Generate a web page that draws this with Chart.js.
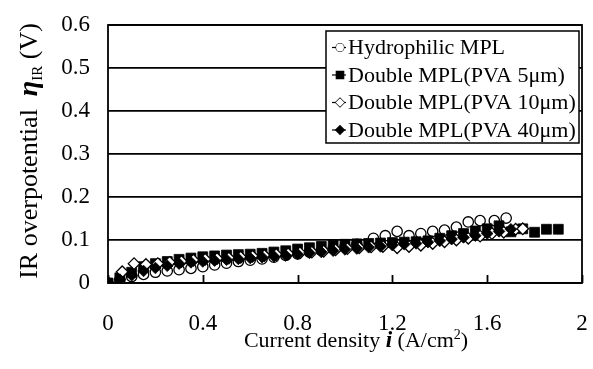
<!DOCTYPE html>
<html>
<head>
<meta charset="utf-8">
<script src="https://cdn.jsdelivr.net/npm/chart.js@4.4.1/dist/chart.umd.min.js"></script>
<style>
    html, body { margin: 0; padding: 0; background: #fff; }
    #wrap { width: 593px; height: 369px; }
</style>
</head>
<body>
<div id="wrap"><canvas id="irChart" width="593" height="369"></canvas></div>
<script>
// Current density i (A/cm2) and IR overpotential (V) for each MPL
const hydroX = [0, 0.05, 0.1, 0.15, 0.2, 0.25, 0.3, 0.35, 0.4, 0.45, 0.5, 0.55, 0.6, 0.65, 0.7, 0.75, 0.8, 0.85,
    0.9, 0.95, 1.0, 1.05, 1.12, 1.17, 1.22, 1.27, 1.32, 1.37, 1.42, 1.47, 1.52, 1.57, 1.63, 1.68];
const hydroY = [0, 0.008, 0.015, 0.02, 0.025, 0.028, 0.031, 0.034, 0.038, 0.042, 0.046, 0.05, 0.053, 0.056, 0.06, 0.064, 0.068, 0.072,
    0.076, 0.08, 0.085, 0.09, 0.104, 0.11, 0.12, 0.11, 0.115, 0.12, 0.123, 0.13, 0.142, 0.145, 0.145, 0.151];

const pva5X = [0, 0.05, 0.1, 0.15, 0.2, 0.25, 0.3, 0.35, 0.4, 0.45, 0.5, 0.55, 0.6, 0.65, 0.7, 0.75, 0.8, 0.85, 0.9, 0.95,
    1.0, 1.05, 1.1, 1.15, 1.2, 1.25, 1.3, 1.35, 1.4, 1.45, 1.5, 1.55, 1.6, 1.65, 1.7, 1.75, 1.8, 1.85, 1.9];
const pva5Y = [0, 0.012, 0.025, 0.038, 0.045, 0.05, 0.055, 0.058, 0.061, 0.063, 0.065, 0.066, 0.067, 0.069, 0.072, 0.075, 0.079, 0.082, 0.085, 0.088,
    0.09, 0.091, 0.092, 0.093, 0.094, 0.095, 0.096, 0.098, 0.104, 0.11, 0.115, 0.121, 0.126, 0.133, 0.119, 0.126, 0.118, 0.125, 0.125];

const pva10X = [0, 0.06, 0.11, 0.16, 0.21, 0.26, 0.31, 0.36, 0.41, 0.46, 0.51, 0.56, 0.61, 0.66, 0.71, 0.76, 0.81, 0.86,
    0.91, 0.96, 1.01, 1.06, 1.11, 1.16, 1.22, 1.27, 1.32, 1.37, 1.42, 1.47, 1.52, 1.57, 1.62, 1.67, 1.72, 1.75];
const pva10Y = [0, 0.026, 0.045, 0.043, 0.045, 0.048, 0.05, 0.053, 0.055, 0.057, 0.058, 0.06, 0.062, 0.064, 0.066, 0.068, 0.07, 0.072,
    0.074, 0.077, 0.08, 0.082, 0.084, 0.085, 0.082, 0.085, 0.088, 0.092, 0.096, 0.1, 0.104, 0.109, 0.115, 0.118, 0.125, 0.126];

const pva40X = [0, 0.05, 0.1, 0.15, 0.2, 0.25, 0.3, 0.35, 0.4, 0.45, 0.5, 0.55, 0.6, 0.65, 0.7, 0.75, 0.8, 0.85,
    0.9, 0.95, 1.0, 1.05, 1.1, 1.15, 1.2, 1.25, 1.3, 1.35, 1.4, 1.45, 1.5, 1.55, 1.6, 1.65, 1.7];
const pva40Y = [0, 0.008, 0.018, 0.028, 0.035, 0.04, 0.045, 0.048, 0.05, 0.052, 0.054, 0.056, 0.058, 0.06, 0.062, 0.064, 0.067, 0.07,
    0.072, 0.075, 0.078, 0.08, 0.083, 0.085, 0.088, 0.09, 0.092, 0.095, 0.098, 0.102, 0.106, 0.11, 0.115, 0.12, 0.125];

const seriesNames = ['Hydrophilic MPL', 'Double MPL(PVA 5\u03bcm)', 'Double MPL(PVA 10\u03bcm)', 'Double MPL(PVA 40\u03bcm)'];
const xTicks = [0, 0.4, 0.8, 1.2, 1.6, 2];
const yTicks = [0, 0.1, 0.2, 0.3, 0.4, 0.5, 0.6];

const serif = '"Liberation Serif", "Times New Roman", serif';
const ink = '#000';

function toPoints(xs, ys) {
    return xs.map((x, i) => ({ x, y: ys[i] }));
}

function fmt(v) {
    if (v === 0) {
        return '0';
    }
    return Number.isInteger(v) ? String(v) : v.toFixed(1);
}

// frame, inward ticks, axis titles and the boxed legend
const decor = {
    id: 'decor',
    beforeDatasetsDraw(chart) {
        const { ctx, chartArea: a, scales } = chart;
        ctx.save();
        ctx.strokeStyle = ink;
        ctx.lineWidth = 1.8;
        ctx.strokeRect(a.left, a.top, a.right - a.left, a.bottom - a.top);
        ctx.beginPath();
        scales.x.ticks.forEach((t) => {
            const px = Math.round(scales.x.getPixelForValue(t.value)) + 0.5;
            ctx.moveTo(px, a.bottom);
            ctx.lineTo(px, a.bottom - 8);
        });
        ctx.stroke();
        ctx.restore();
    },
    afterDraw(chart) {
        const { ctx, chartArea: a } = chart;
        ctx.save();
        ctx.fillStyle = ink;
        ctx.textBaseline = 'alphabetic';

        // x title: Current density i (A/cm2)
        const parts = [
            { t: 'Current density ', f: `22px ${serif}`, dy: 0 },
            { t: 'i', f: `bold italic 23px ${serif}`, dy: 0 },
            { t: ' (A/cm', f: `22px ${serif}`, dy: 0 },
            { t: '2', f: `14px ${serif}`, dy: -8 },
            { t: ')', f: `22px ${serif}`, dy: 0 },
        ];
        let total = 0;
        parts.forEach((p) => { ctx.font = p.f; p.w = ctx.measureText(p.t).width; total += p.w; });
        let cx = 356 - total / 2;
        parts.forEach((p) => {
            ctx.font = p.f;
            ctx.fillText(p.t, cx, 347 + p.dy);
            cx += p.w;
        });

        // y title: IR overpotential eta_IR (V)
        const yparts = [
            { t: 'IR overpotential  ', f: `26px ${serif}`, dy: 0 },
            { t: '\u03b7', f: `bold italic 28px ${serif}`, dy: 0 },
            { t: 'IR', f: `15px ${serif}`, dy: 5 },
            { t: ' (V)', f: `26px ${serif}`, dy: 0 },
        ];
        total = 0;
        yparts.forEach((p) => { ctx.font = p.f; p.w = ctx.measureText(p.t).width; total += p.w; });
        ctx.translate(37, 151);
        ctx.rotate(-Math.PI / 2);
        cx = -total / 2;
        yparts.forEach((p) => {
            ctx.font = p.f;
            ctx.fillText(p.t, cx, p.dy);
            cx += p.w;
        });
        ctx.restore();

        // legend box inside the plot
        const box = { x: 326, y: 31, w: 253, h: 112 };
        ctx.save();
        ctx.fillStyle = '#fff';
        ctx.fillRect(box.x, box.y, box.w, box.h);
        ctx.strokeStyle = ink;
        ctx.lineWidth = 1.5;
        ctx.strokeRect(box.x, box.y, box.w, box.h);
        ctx.font = `22px ${serif}`;
        ctx.textBaseline = 'middle';
        chart.data.datasets.forEach((ds, i) => {
            const yc = 47.5 + i * 27.5;
            ctx.strokeStyle = ink;
            ctx.lineWidth = 1.2;
            ctx.beginPath();
            ctx.moveTo(332, yc);
            ctx.lineTo(346, yc);
            ctx.stroke();
            ctx.fillStyle = ds.backgroundColor;
            Chart.helpers.drawPoint(ctx, {
                pointStyle: ds.pointStyle,
                radius: ds.pointRadius * 0.75,
                borderWidth: ds.borderWidth,
                rotation: 0,
            }, 340, yc);
            if (ds.backgroundColor !== ink) {
                ctx.fill();
            }
            ctx.fillStyle = ink;
            ctx.fillText(ds.label, 348, yc + 1);
        });
        ctx.restore();
    },
};

Chart.defaults.font.family = serif;
Chart.defaults.color = ink;

new Chart(document.getElementById('irChart'), {
    type: 'scatter',
    data: {
        datasets: [
            {
                label: seriesNames[0],
                data: toPoints(hydroX, hydroY),
                pointStyle: 'circle',
                pointRadius: 5.2,
                backgroundColor: '#fff',
                borderColor: ink,
                borderWidth: 1.3,
                order: 4,
            },
            {
                label: seriesNames[1],
                data: toPoints(pva5X, pva5Y),
                pointStyle: 'rect',
                pointRadius: 7,
                backgroundColor: ink,
                borderColor: ink,
                borderWidth: 0.8,
                order: 3,
            },
            {
                label: seriesNames[2],
                data: toPoints(pva10X, pva10Y),
                pointStyle: 'rectRot',
                pointRadius: 5.8,
                backgroundColor: '#fff',
                borderColor: ink,
                borderWidth: 1.3,
                order: 2,
            },
            {
                label: seriesNames[3],
                data: toPoints(pva40X, pva40Y),
                pointStyle: 'rectRot',
                pointRadius: 5.8,
                backgroundColor: ink,
                borderColor: ink,
                borderWidth: 0.8,
                order: 1,
            },
        ],
    },
    options: {
        responsive: false,
        animation: false,
        events: [],
        layout: { padding: { top: 25, right: 11, left: 0, bottom: 0 } },
        plugins: { legend: { display: false }, tooltip: { enabled: false } },
        scales: {
            x: {
                type: 'linear',
                min: 0,
                max: 2,
                afterFit: (scale) => {
                    scale.height = 86;
                    scale.paddingLeft = 0;
                    scale.paddingRight = 0;
                },
                afterBuildTicks: (scale) => { scale.ticks = xTicks.map((v) => ({ value: v })); },
                grid: { display: false },
                border: { display: false },
                ticks: { font: { size: 23 }, color: ink, padding: 19, maxRotation: 0, callback: (v) => fmt(v) },
            },
            y: {
                min: 0,
                max: 0.6,
                afterFit: (scale) => {
                    scale.width = 108;
                    scale.paddingTop = 0;
                    scale.paddingBottom = 0;
                },
                afterBuildTicks: (scale) => { scale.ticks = yTicks.map((v) => ({ value: v })); },
                grid: { color: ink, lineWidth: 1.8, drawTicks: false },
                border: { display: false },
                ticks: { font: { size: 23 }, color: ink, padding: 18, callback: (v) => fmt(v) },
            },
        },
    },
    plugins: [decor],
});
</script>
</body>
</html>
